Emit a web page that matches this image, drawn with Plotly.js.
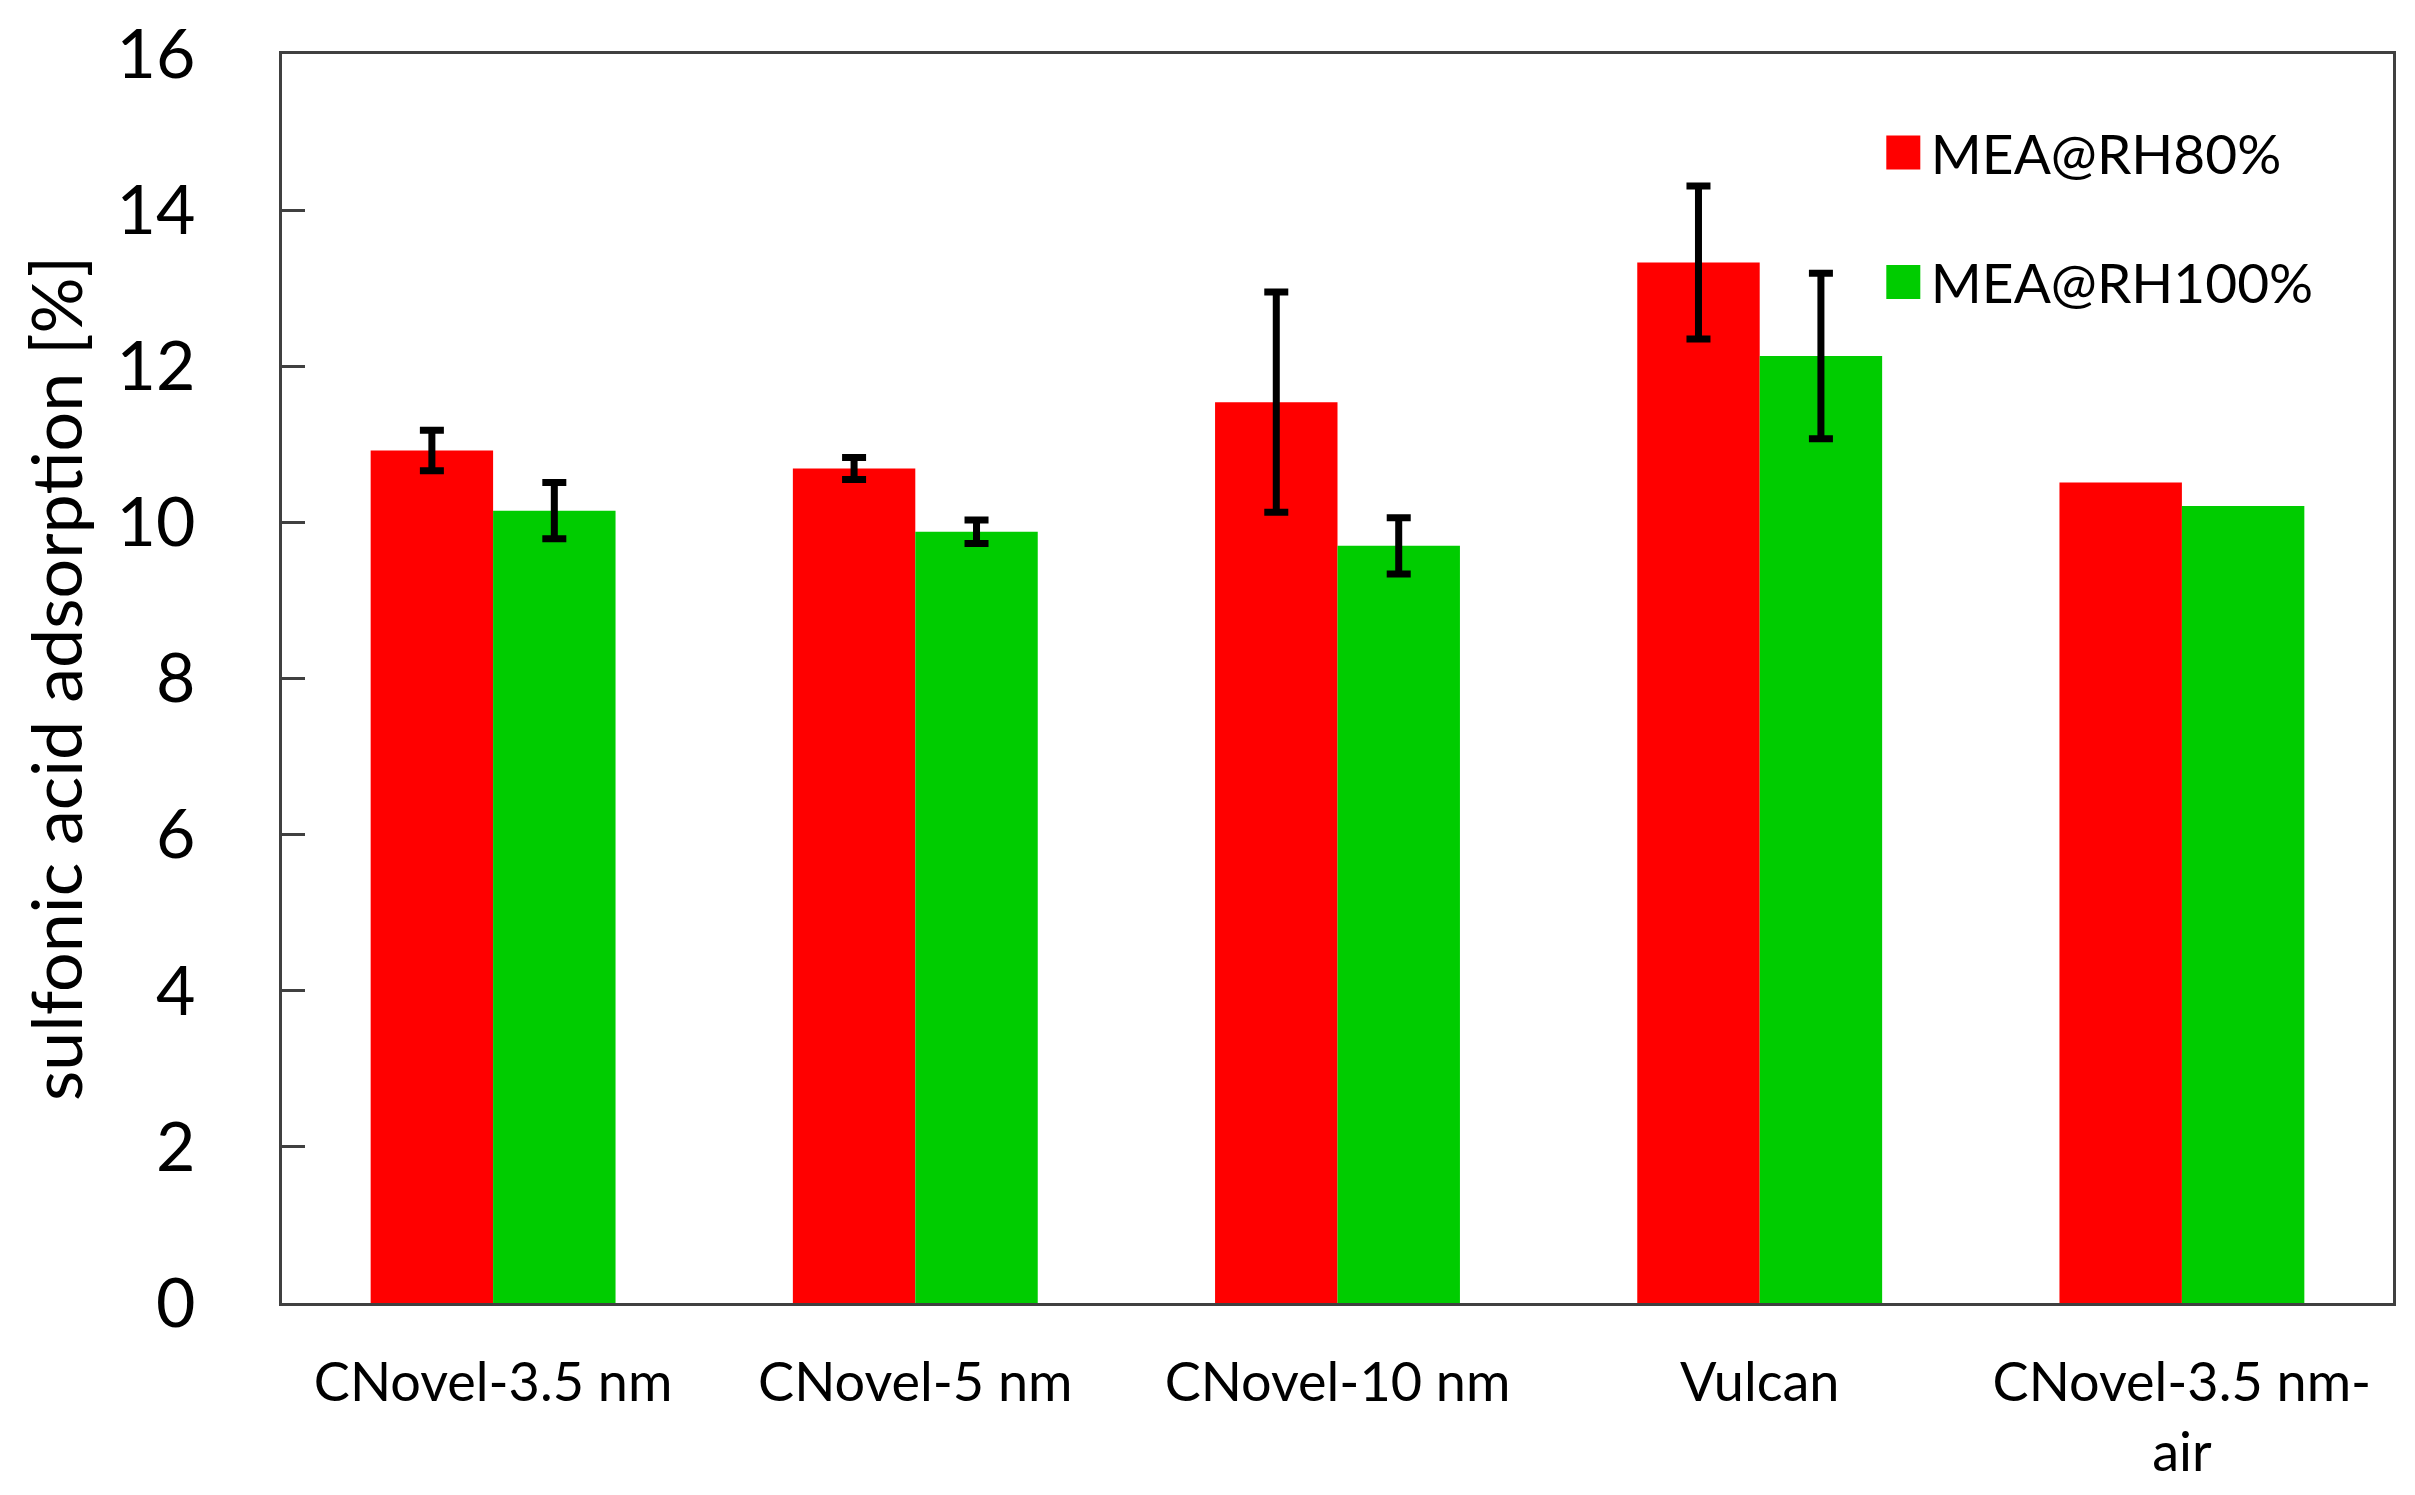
<!DOCTYPE html>
<html>
<head>
<meta charset="utf-8">
<script src="https://cdn.plot.ly/plotly-3.0.1.min.js"></script>
<style>
  html, body { margin: 0; padding: 0; background: #fff; }
  #plot { width: 2415px; height: 1495px; }
</style>
</head>
<body>
<div id="plot"></div>
<script>
// categories (x axis)
let samples = ["CNovel-3.5 nm", "CNovel-5 nm", "CNovel-10 nm", "Vulcan", "CNovel-3.5 nm-<br>air"]

// sulfonic acid adsorption [%] (NaN = no error bar)
let rh80 = [10.92, 10.69, 11.54, 13.33, 10.51]
let rh80Err = [0.26, 0.14, 1.41, 0.98, NaN]
let rh100 = [10.15, 9.88, 9.70, 12.13, 10.21]
let rh100Err = [0.36, 0.15, 0.36, 1.06, NaN]

let yTicks = [0, 2, 4, 6, 8, 10, 12, 14, 16]

let fontFamily = "Lato, 'Open Sans', sans-serif"

let errStyle = function (vals) {
  return {
    type: "data",
    array: vals,
    visible: true,
    color: "#000000",
    thickness: 7,
    width: 12
  }
}

let trace1 = {
  x: samples,
  y: rh80,
  name: "MEA@RH80%",
  type: "bar",
  legendgroup: "a",
  marker: { color: "#ff0000" },
  error_y: errStyle(rh80Err)
}

let trace2 = {
  x: samples,
  y: rh100,
  name: "MEA@RH100%",
  type: "bar",
  legendgroup: "b",
  marker: { color: "#00cc00" },
  error_y: errStyle(rh100Err)
}

let layout = {
  width: 2415,
  height: 1495,
  margin: { l: 282, r: 22, t: 54, b: 192 },
  paper_bgcolor: "#ffffff",
  plot_bgcolor: "#ffffff",
  font: { family: fontFamily, color: "#000000" },
  barmode: "group",
  bargap: 0.42,
  bargroupgap: 0,
  showlegend: true,
  legend: {
    x: 0.755,
    y: 0.955,
    xanchor: "left",
    yanchor: "top",
    bgcolor: "rgba(0,0,0,0)",
    font: { size: 55, family: fontFamily },
    tracegroupgap: 55,
    itemwidth: 45
  },
  xaxis: {
    showline: true,
    linecolor: "#404040",
    linewidth: 3,
    mirror: true,
    ticks: "",
    tickfont: { size: 54, family: fontFamily },
    ticklabelstandoff: 30,
    showgrid: false,
    zeroline: false
  },
  yaxis: {
    range: [0, 16],
    tickvals: yTicks,
    ticktext: yTicks.map(String),
    showline: true,
    linecolor: "#404040",
    linewidth: 3,
    mirror: true,
    ticks: "inside",
    ticklen: 23,
    tickwidth: 3,
    tickcolor: "#404040",
    tickfont: { size: 68, family: fontFamily },
    ticklabelstandoff: 70,
    showgrid: false,
    zeroline: false,
    title: {
      text: "sulfonic acid adsorption [%]",
      font: { size: 70, family: fontFamily },
      standoff: 12
    }
  }
}

Plotly.newPlot("plot", [trace1, trace2], layout, { displayModeBar: false }).then(function (gd) {
  // the legend squares are much bigger in the reference
  gd.querySelectorAll(".legend .legendpoints path").forEach(function (p) {
    p.setAttribute("d", "M17,17H-17V-17H17Z")
    p.removeAttribute("clip-path")
  })
  gd.querySelectorAll(".legend .legendpoints").forEach(function (g) {
    g.removeAttribute("clip-path")
  })
})
</script>
</body>
</html>
